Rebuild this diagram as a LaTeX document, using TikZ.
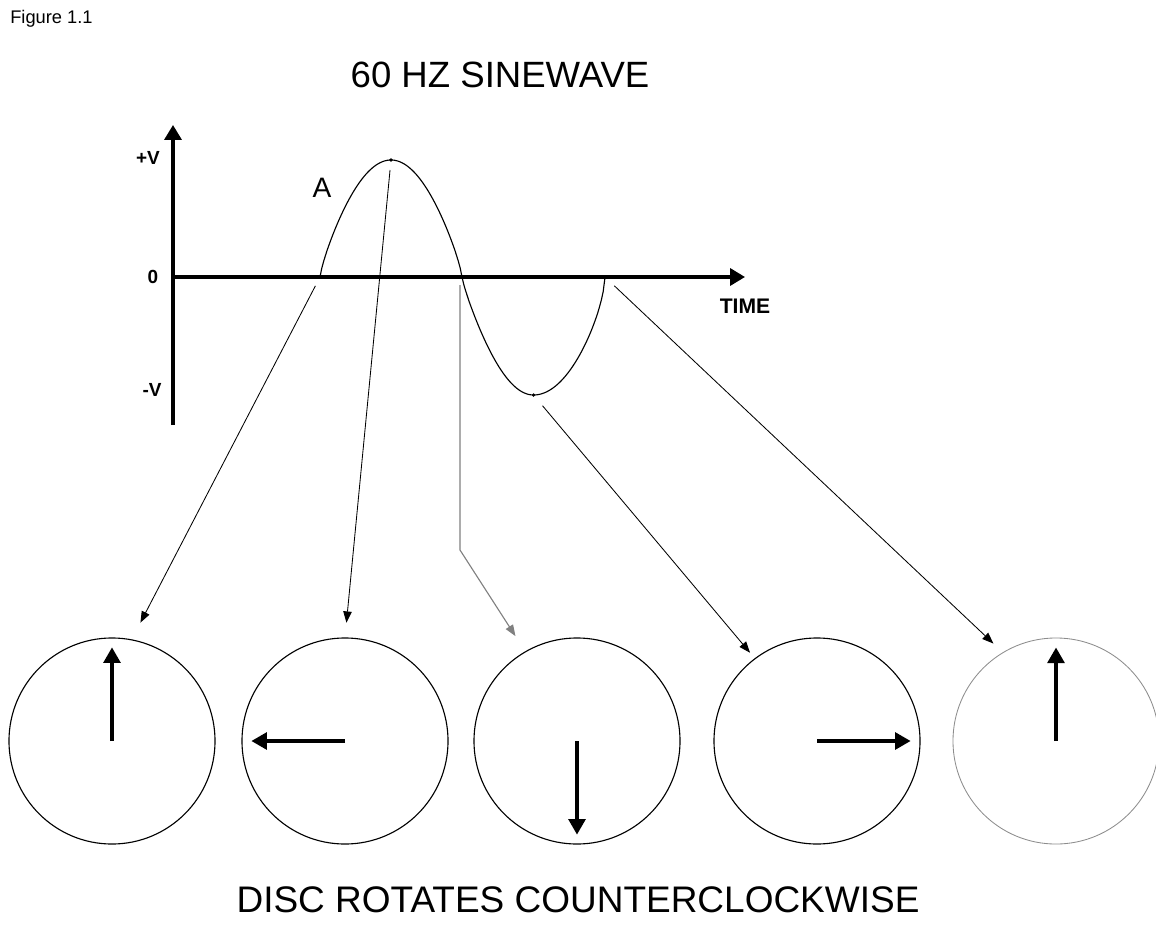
\documentclass[tikz,border=0pt]{standalone}
\usepackage{fontspec}
\setmainfont{Liberation Sans}
\usetikzlibrary{arrows.meta}

\begin{document}
\begin{tikzpicture}[
        x=0.025cm, y=-0.025cm,
        % Styles for the axes and the wave
        axis/.style={line width=2.2pt, -{Triangle[length=10.5pt, width=12pt]}},
        wave/.style={line width=0.8pt},
        dot/.style={circle, fill, inner sep=0pt, minimum size=2.5pt},
        % Thin arrows from the wave down to the discs
        feed/.style={line width=0.6pt, -{Triangle[length=8pt, width=6pt]}},
        % Discs and the pointer drawn in each
        disc/.style={circle, draw, line width=0.8pt, minimum size=5.15cm, inner sep=0pt},
        pointer/.style={line width=2.2pt, -{Triangle[length=11pt, width=12pt]}, shorten >=0.25cm},
        axlabel/.style={font=\bfseries\fontsize{13.5}{15}\selectfont, inner sep=0pt}
    ]
        \useasboundingbox (0,0) rectangle (1156,938);

        % 1. Titles
        \node[anchor=base west, inner sep=0pt, font=\fontsize{13}{15}\selectfont] (fig) at (10,24) {Figure 1.1};
        \node[anchor=base, inner sep=0pt, font=\fontsize{26}{30}\selectfont] (title) at (500,88) {60 HZ SINEWAVE};
        \node[anchor=base, inner sep=0pt, font=\fontsize{26.3}{30}\selectfont] (caption) at (578,912) {DISC ROTATES COUNTERCLOCKWISE};

        % 2. Axes
        \coordinate (o) at (173,277);
        \coordinate (ytop) at (173,125);
        \coordinate (ybot) at (173,425);
        \coordinate (xend) at (745,277);
        \draw[axis] (ybot) -- (ytop);
        \draw[axis] (o) -- (xend);
        \node[axlabel] (pv) at (148,158) {+V};
        \node[axlabel] (zero) at (153,277) {0};
        \node[axlabel] (mv) at (152,390) {-V};
        \node[axlabel, font=\bfseries\fontsize{15}{17}\selectfont] (time) at (745,306) {TIME};

        % 3. Sine wave (rounded top, steep crossings)
        \draw[wave] plot[domain=320:391, samples=40] (\x, {277 - 117*pow(max(sin((\x-320)/71*90),0.0001),0.8)})
            -- plot[domain=391:462, samples=40] (\x, {277 - 117*pow(max(sin((462-\x)/71*90),0.0001),0.8)})
            -- plot[domain=462:533.5, samples=40] (\x, {277 + 118*pow(max(sin((\x-462)/71.5*90),0.0001),0.85)})
            -- plot[domain=533.5:605, samples=40] (\x, {277 + 118*pow(max(sin((605-\x)/71.5*90),0.0001),0.65)});
        \coordinate (z1) at (320,277);
        \coordinate (z2) at (462,277);
        \coordinate (z3) at (605,277);
        \node[dot] (pk) at (391,160) {};
        \node[dot] (tr) at (533.5,395) {};
        \node[inner sep=0pt, font=\fontsize{20}{22}\selectfont] (lbA) at (322,188) {A};

        % 4. Discs
        \node[disc] (d1) at (112,741) {};
        \node[disc] (d2) at (345,741) {};
        \node[disc] (d3) at (577,741) {};
        \node[disc] (d4) at (817,741) {};
        \node[disc, draw=black!45, line width=0.6pt] (d5) at (1056,741) {};

        % 5. Pointers
        \draw[pointer] (d1.center) -- (d1.north);
        \draw[pointer] (d2.center) -- (d2.west);
        \draw[pointer] (d3.center) -- (d3.south);
        \draw[pointer] (d4.center) -- (d4.east);
        \draw[pointer] (d5.center) -- (d5.north);

        % 6. Wave points -> discs
        \draw[feed, shorten <=0.25cm, shorten >=0.47cm] (z1) -- (d1.79);
        \draw[feed, shorten <=0.2cm, shorten >=0.37cm] (pk) -- (d2.90);
        \draw[feed, draw=gray, line width=0.8pt, shorten >=0.45cm] ([shift={(-2,8)}]z2) -- ++(0,265) -- (d3.120);
        \draw[feed, shorten <=0.3cm, shorten >=0.18cm] (tr) -- (d4.127);
        \draw[feed, shorten <=0.32cm, shorten >=0.32cm] (z3) -- (d5.121);

    \end{tikzpicture}
\end{document}
